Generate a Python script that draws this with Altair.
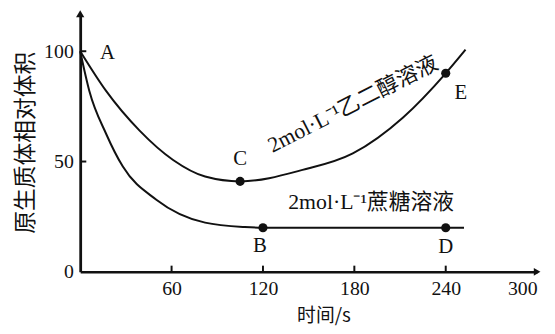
import altair as alt
import pandas as pd

# 2 mol/L 乙二醇溶液 curve (time s, relative volume)
eth_t = [0, 17, 39, 61, 82, 105, 146, 179, 212, 240, 253]
eth_v = [100, 82, 64, 50.7, 43.2, 41, 46.2, 53.7, 70, 90, 100.7]
# 2 mol/L 蔗糖溶液 curve
suc_t = [0, 6, 17, 28, 50, 82, 108, 120, 240, 252]
suc_v = [100, 82, 62.6, 47.7, 32.7, 22.3, 20.3, 20, 20, 20]

# marked points
pt_name = ["B", "C", "D", "E"]
pt_t = [120, 105, 240, 240]
pt_v = [20, 41, 20, 90]

# point letters
lab_text = ["A", "B", "C", "D", "E"]
lab_t = [18, 118, 105, 240, 250]
lab_v = [99, 11.5, 51, 11.2, 81]

# curve captions
cap_text = ["2mol·L⁻¹乙二醇溶液", "2mol·L⁻¹蔗糖溶液"]
cap_t = [179, 191]
cap_v = [76, 31.5]
cap_angle = [333, 0]

x_ticks = [60, 120, 180, 240, 300]
y_ticks = [0, 50, 100]
x_inner_ticks = [60, 120, 180, 240]
y_inner_ticks = [50, 100]

curves = pd.concat([
    pd.DataFrame({"t": eth_t, "v": eth_v, "s": "乙二醇"}),
    pd.DataFrame({"t": suc_t, "v": suc_v, "s": "蔗糖"}),
])
pts = pd.DataFrame({"n": pt_name, "t": pt_t, "v": pt_v})
labs = pd.DataFrame({"txt": lab_text, "t": lab_t, "v": lab_v})
caps = pd.DataFrame({"txt": cap_text, "t": cap_t, "v": cap_v, "a": cap_angle})

INK = "#111111"
SERIF = "Liberation Serif"
MIX = "Liberation Serif, 'Noto Sans CJK SC'"

xs = alt.Scale(domain=[0, 300], nice=False, zero=False)
ys = alt.Scale(domain=[0, 117], nice=False)

x_axis = alt.Axis(values=x_ticks, title="时间/s", grid=False, ticks=False,
                  domainColor=INK, domainWidth=2.5, labelFont=SERIF,
                  labelFontSize=20, labelColor=INK, labelPadding=7,
                  titleFont="Noto Sans CJK SC", titleFontSize=19,
                  titleFontWeight="normal", titleColor=INK,
                  titleX=246, titleY=44, titleBaseline="middle")
y_axis = alt.Axis(values=y_ticks, title="原生质体相对体积", grid=False, ticks=False,
                  domainColor=INK, domainWidth=2.8, labelFont=SERIF,
                  labelFontSize=20, labelColor=INK, labelPadding=7,
                  titleFont="Noto Sans CJK SC", titleFontSize=23,
                  titleFontWeight="normal", titleColor=INK,
                  titleX=-55, titleY=130, titleAngle=270,
                  titleAlign="center", titleBaseline="middle")

lines = alt.Chart(curves).mark_line(interpolate="monotone", color=INK, strokeWidth=2).encode(
    x=alt.X("t:Q", scale=xs, axis=x_axis),
    y=alt.Y("v:Q", scale=ys, axis=y_axis),
    detail="s:N",
)

dots = alt.Chart(pts).mark_circle(size=85, color=INK, opacity=1).encode(
    x=alt.X("t:Q", scale=xs), y=alt.Y("v:Q", scale=ys))

letters = alt.Chart(labs).mark_text(font=SERIF, fontSize=21, color=INK).encode(
    x=alt.X("t:Q", scale=xs), y=alt.Y("v:Q", scale=ys), text="txt:N")

captions = alt.Chart(caps).mark_text(font=MIX, fontSize=22, color=INK).encode(
    x=alt.X("t:Q", scale=xs), y=alt.Y("v:Q", scale=ys), text="txt:N",
    angle=alt.Angle("a:Q", scale=None))

xt = alt.Chart(pd.DataFrame({"t": x_inner_ticks})).mark_rule(color=INK, strokeWidth=2).encode(
    x=alt.X("t:Q", scale=xs), y=alt.datum(0), y2=alt.datum(2.8))
yt = alt.Chart(pd.DataFrame({"v": y_inner_ticks})).mark_rule(color=INK, strokeWidth=2).encode(
    y=alt.Y("v:Q", scale=ys), x=alt.datum(0), x2=alt.datum(4))

arrow_up = alt.Chart(pd.DataFrame({"t": [0], "v": [117]})).mark_point(
    shape="triangle-up", filled=True, size=70, color=INK, opacity=1).encode(
    x=alt.X("t:Q", scale=xs), y=alt.Y("v:Q", scale=ys))
arrow_right = alt.Chart(pd.DataFrame({"t": [300], "v": [0]})).mark_point(
    shape="triangle-right", filled=True, size=60, color=INK, opacity=1).encode(
    x=alt.X("t:Q", scale=xs), y=alt.Y("v:Q", scale=ys))

chart = alt.layer(lines, xt, yt, dots, letters, captions, arrow_up, arrow_right).properties(
    width=462, height=261,
    autosize=alt.AutoSizeParams(type="none"),
    padding={"left": 73, "top": 4, "right": 10, "bottom": 55},
    background="white",
).configure_view(stroke=None)

chart.save("out.html", embed_options={"renderer": "svg", "actions": False})
